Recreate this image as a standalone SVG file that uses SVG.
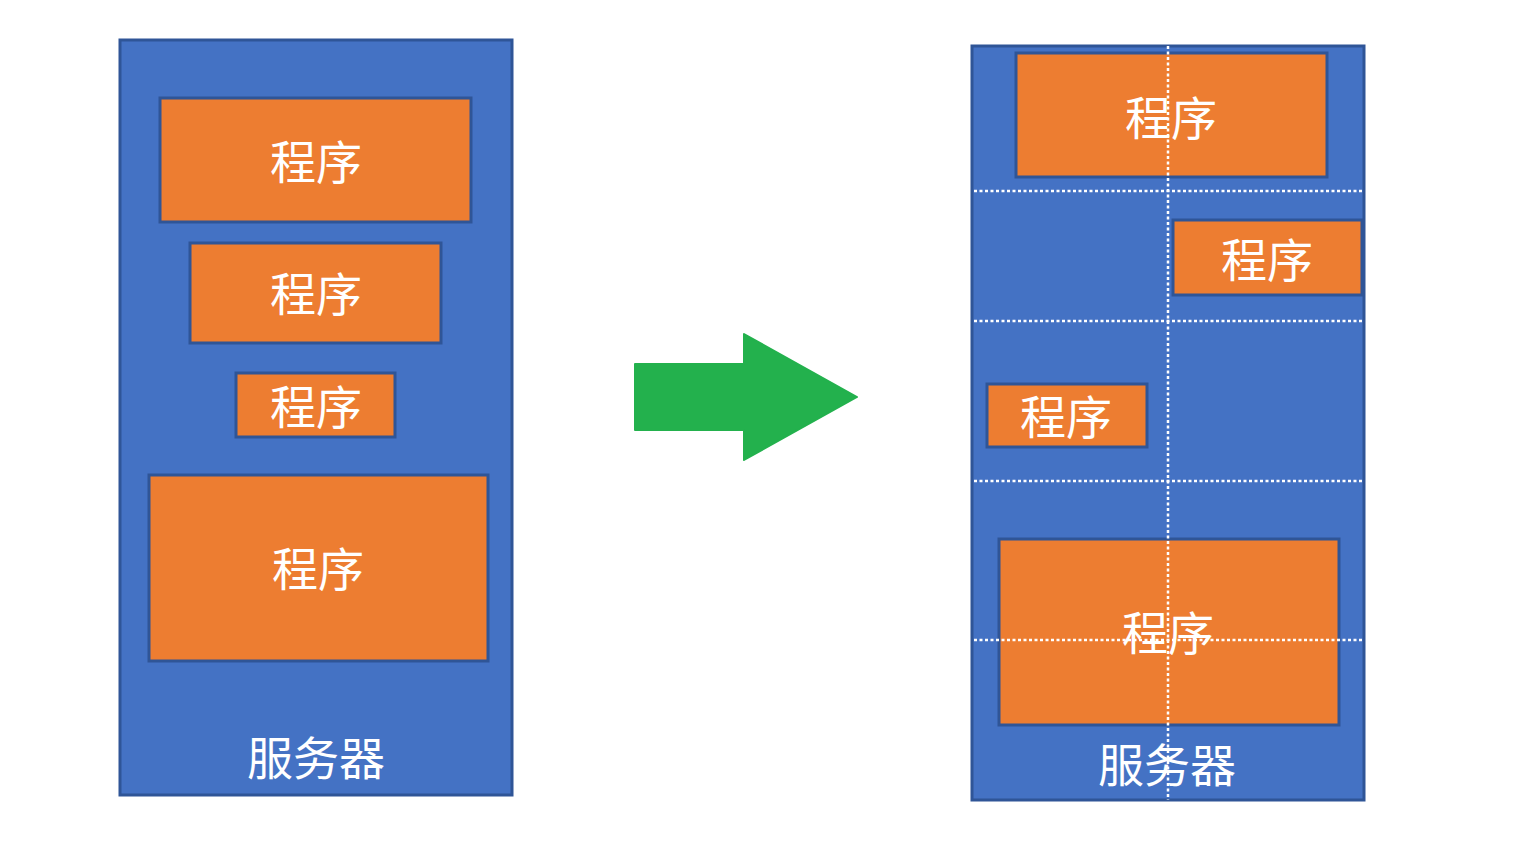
<svg xmlns="http://www.w3.org/2000/svg" width="1517" height="841" viewBox="0 0 1517 841">
<style>
.srv{fill:#4472C4;stroke:#2F5597;stroke-width:3}
.prg{fill:#ED7D31;stroke:#2F5597;stroke-width:3}
.t{font-family:"Noto Sans CJK SC","Noto Sans",sans-serif;font-size:46px;fill:#FFFFFF;text-anchor:middle}
.dot{stroke:#FFFFFF;stroke-width:2.5;stroke-dasharray:3 2.5;fill:none}
</style>
<rect width="1517" height="841" fill="#FFFFFF"/>
<g id="server-left">
<rect class="srv" x="120" y="40" width="392" height="755"/>
<text class="t" x="316" y="775">服务器</text>
</g>
<g id="prog-l1"><rect class="prg" x="160" y="98" width="311" height="124"/><text class="t" x="316" y="179">程序</text></g>
<g id="prog-l2"><rect class="prg" x="190" y="243" width="251" height="100"/><text class="t" x="316" y="311">程序</text></g>
<g id="prog-l3"><rect class="prg" x="236" y="373" width="159" height="64"/><text class="t" x="316" y="424">程序</text></g>
<g id="prog-l4"><rect class="prg" x="149" y="475" width="339" height="186"/><text class="t" x="318" y="586">程序</text></g>
<g id="arrow">
<polygon points="635,364 744,364 744,334 857,397 744,460 744,430 635,430" fill="#23B14D" stroke="#23B14D" stroke-width="2" stroke-linejoin="round"/>
</g>
<g id="server-right">
<rect class="srv" x="972" y="46" width="392" height="754"/>
<text class="t" x="1167" y="782">服务器</text>
</g>
<g id="prog-r1"><rect class="prg" x="1016" y="53" width="311" height="124"/><text class="t" x="1171" y="135">程序</text></g>
<g id="prog-r2"><rect class="prg" x="1173" y="220" width="189" height="75"/><text class="t" x="1267" y="277">程序</text></g>
<g id="prog-r3"><rect class="prg" x="987" y="384" width="160" height="63"/><text class="t" x="1066" y="434">程序</text></g>
<g id="prog-r4"><rect class="prg" x="999" y="539" width="340" height="186"/><text class="t" x="1168" y="650">程序</text></g>
<g id="connectors">
<line class="dot" x1="1168" y1="46" x2="1168" y2="800"/>
<line class="dot" x1="974" y1="191" x2="1364" y2="191"/>
<line class="dot" x1="974" y1="321" x2="1364" y2="321"/>
<line class="dot" x1="974" y1="481" x2="1364" y2="481"/>
<line class="dot" x1="974" y1="640" x2="1364" y2="640"/>
</g>
</svg>
